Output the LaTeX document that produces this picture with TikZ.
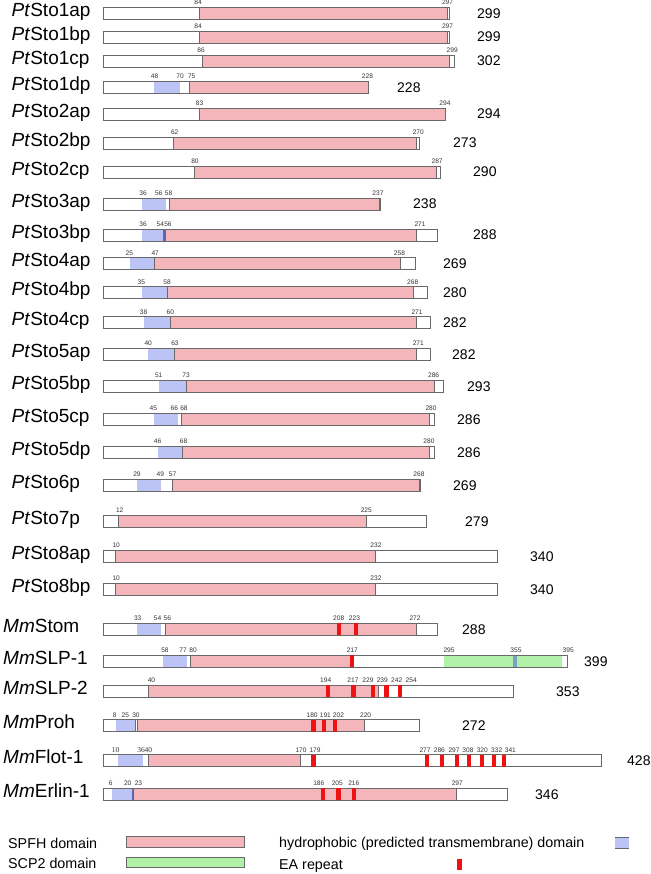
\documentclass[tikz,border=0pt]{standalone}
\usepackage{fontspec}
\setmainfont{Liberation Sans}
\newfontfamily\serifdigits{Liberation Serif}

\definecolor{spfhpink}{RGB}{244,182,186}
\definecolor{tmblue}{RGB}{188,196,245}
\definecolor{tmdark}{RGB}{96,104,170}
\definecolor{scpgreen}{RGB}{176,240,168}
\definecolor{eared}{RGB}{238,18,18}
\definecolor{stripeblue}{RGB}{122,160,196}
\definecolor{linegray}{RGB}{105,105,105}
\definecolor{labgray}{RGB}{50,50,50}

\begin{document}
\begin{tikzpicture}[
  x=1pt, y=-1pt,
  protbar/.style={draw=linegray, line width=0.8pt},
  spfh/.style={draw=linegray, line width=0.8pt, fill=spfhpink},
  tm/.style={fill=tmblue},
  scp/.style={fill=scpgreen},
  ea/.style={fill=eared},
  res/.style={xshift=103pt, x=1.16pt},
  protname/.style={anchor=base west, inner sep=0pt, font=\fontsize{19}{21}\selectfont},
  lenlab/.style={anchor=base west, inner sep=0pt, font=\fontsize{14}{16}\selectfont},
  poslab/.style={anchor=base, inner sep=0pt, text=labgray, font=\fontsize{6.6}{8}\selectfont},
  legtext/.style={anchor=base west, inner sep=0pt, font=\fontsize{14.3}{16}\selectfont},
]
\useasboundingbox (0,0) rectangle (650,874);

% protein bars: prefix/name/y/length/drawn end/hydrophobic/SPFH/length label x/name x
\foreach \pre/\id/\yy/\len/\e/\ta/\tb/\sa/\sb/\lx/\nx in {
  Pt/Sto1ap/13.5/299/299/0/0/83/296.5/477/11.5,
  Pt/Sto1bp/37/299/299/0/0/83/296.5/477/11.5,
  Pt/Sto1cp/61/302/303/0/0/85.5/299/477/11.5,
  Pt/Sto1dp/87.5/228/228.5/44/66/74.5/228.5/397/11.5,
  Pt/Sto2ap/114/294/295/0/0/83/295/477/11.5,
  Pt/Sto2bp/143/273/273/0/0/61/270/453/11.5,
  Pt/Sto2cp/172/290/290.5/0/0/79/287/473/11.5,
  Pt/Sto3ap/204/238/239/34/54/57/238/413/11.5,
  Pt/Sto3bp/235/288/288.5/34/52/54/270.5/473/11.5,
  Pt/Sto4ap/263.5/269/269/23/44/44/256/443/11.5,
  Pt/Sto4bp/292.5/280/280/33.5/55/55.5/267.5/443/11.5,
  Pt/Sto4cp/322.5/282/282/35/58/58.3/270/443/11.5,
  Pt/Sto5ap/354/282/282/38.5/61.5/61.5/270.5/452/11.5,
  Pt/Sto5bp/386/293/293.5/48.5/71.5/72/286/467/11.5,
  Pt/Sto5cp/419/286/286/44/65/68/281/457/11.5,
  Pt/Sto5dp/452/286/286/47/68/68.7/281/457/11.5,
  Pt/Sto6p/485/269/274/29/50/59.5/273/453/11.5,
  Pt/Sto7p/521/279/279/0/0/13/227.3/465/11.5,
  Pt/Sto8ap/556/340/340/0/0/11/234.5/530/11.5,
  Pt/Sto8bp/589/340/340/0/0/11/234.5/530/11.5,
  Mm/Stom/629/288/288.5/29/50/53.4/270.4/462/3,
  Mm/SLP-1/661/399/400/52/72.7/75.6/215/584/3,
  Mm/SLP-2/691/353/354/0/0/38.8/237/556/3,
  Mm/Proh/725.5/272/273/11/28/29.7/225.5/462/3,
  Mm/Flot-1/760.5/428/430/12.5/34.5/38.8/169.8/627/3,
  Mm/Erlin-1/794/346/348.7/7.5/25.4/26.1/304.5/535/3}
{
  \begin{scope}[res]
    \fill[white] (0,\yy-6) rectangle (\e,\yy+6);
    \fill[tm] (\ta,\yy-6) rectangle (\tb,\yy+6);
    \draw[spfh] (\sa,\yy-6) rectangle (\sb,\yy+6);
    \draw[protbar] (0,\yy-6) rectangle (\e,\yy+6);
  \end{scope}
  \node[protname] (n\id) at (\nx,\yy+3.3) {\textit{\pre}\id};
  \node[lenlab] (l\id) at (\lx,\yy+5) {\len};
}

\begin{scope}[res]
  % SCP2 domain of SLP-1
  \fill[scp] (294,655) rectangle (395.7,667);
  \fill[stripeblue] (353.4,655) rectangle (356.9,667);
  \draw[protbar] (0,655) rectangle (400,667);
  % dark ends of hydrophobic stretches
  \fill[tmdark] (52,229) rectangle (54,241);
  \draw[tmdark, line width=0.8pt] (28,719.5) -- (28,731.5);
  \draw[tmdark, line width=0.8pt] (25.4,788) -- (25.4,800);
  % EA repeats
  \foreach \yy/\c in {629/203.4, 629/218, 661/214.7,
    691/194, 691/216, 691/233, 691/244.4, 691/255.7,
    725.5/181.5, 725.5/190.5, 725.5/199.7,
    760.5/181.5, 760.5/279.4, 760.5/292.4, 760.5/305, 760.5/315.3,
    760.5/327, 760.5/336.8, 760.5/345.6,
    794/189.7, 794/203, 794/216.4}
    \fill[ea] (\c-1.8,\yy-6) rectangle (\c+1.8,\yy+6);
  % residue numbers
  \foreach \yy/\r/\txt [count=\i] in {
    13.5/82/84, 13.5/297/297, 37/82/84, 37/297/297,
    61/84.5/86, 61/301/299,
    87.5/44.4/48, 87.5/66.5/70, 87.5/76.5/75, 87.5/228/228,
    114/83.3/83, 114/294.8/294, 143/61.8/62, 143/271.8/270,
    172/79.3/80, 172/288/287,
    204/34.5/36, 204/48/56, 204/56.5/58, 204/237/237,
    235/34.5/36, 235/49.4/54, 235/56/56, 235/273.3/271,
    263.5/22.7/25, 263.5/45/47, 263.5/255.6/258,
    292.5/33/35, 292.5/55.2/58, 292.5/267/268,
    322.5/35/38, 322.5/58/60, 322.5/270.7/271,
    354/39/40, 354/62/63, 354/271.8/271,
    386/48/51, 386/71.6/73, 386/285/286,
    419/43.4/45, 419/61.5/66, 419/69.8/68, 419/282.8/280,
    452/47/46, 452/69.5/68, 452/281/280,
    485/29.3/29, 485/49.4/49, 485/60/57, 485/272.4/268,
    521/14.4/12, 521/227/225,
    556/11.4/10, 556/235.3/232, 589/11.4/10, 589/235.3/232,
    629/29.9/33, 629/47/54, 629/55.4/56, 629/203.2/208, 629/216.8/223, 629/269/272,
    661/53.4/58, 661/69/77, 661/77.6/80, 661/215/217, 661/298.3/295, 661/356/355, 661/401/395,
    691/41.8/40, 691/192/194, 691/215.5/217, 691/228.4/229, 691/240.8/239, 691/253.2/242, 691/265.7/254,
    725.5/10/8, 725.5/19.3/25, 725.5/28.4/30, 725.5/180.3/180, 725.5/191.7/191, 725.5/203/202, 725.5/226.4/220,
    760.5/170.7/170, 760.5/182.8/179, 760.5/277.6/277, 760.5/290/286, 760.5/302.6/297,
    760.5/314.6/308, 760.5/327/320, 760.5/339.4/332, 760.5/351.2/341,
    794/6.7/6, 794/21.3/20, 794/30.6/23, 794/186/186, 794/202/205, 794/216.2/216, 794/305.4/297}
    \node[poslab] (p\i) at (\r,\yy-8.5) {\txt};
  \node[poslab, font=\serifdigits\fontsize{7.5}{8}\selectfont] (f10) at (10.9,752) {10};
  \node[poslab, font=\serifdigits\fontsize{7.5}{8}\selectfont] (f36) at (32.8,752) {36};
  \node[poslab, font=\serifdigits\fontsize{7.5}{8}\selectfont] (f40) at (39.1,752) {40};
\end{scope}

% legend
\draw[spfh] (126,836) rectangle (244,847);
\draw[protbar, fill=scpgreen] (126,857) rectangle (244,867);
\fill[tm] (615,837) rectangle (629,848);
\draw[protbar] (615,837) -- (629,837) (615,848) -- (629,848);
\fill[ea] (457,859) rectangle (462,870);
\node[legtext] (lgspfh) at (8,848) {SPFH domain};
\node[legtext] (lgscp) at (8,868) {SCP2 domain};
\node[legtext] (lgtm) at (279,847) {hydrophobic (predicted transmembrane) domain};
\node[legtext] (lgea) at (279,869) {EA repeat};
\end{tikzpicture}
\end{document}
